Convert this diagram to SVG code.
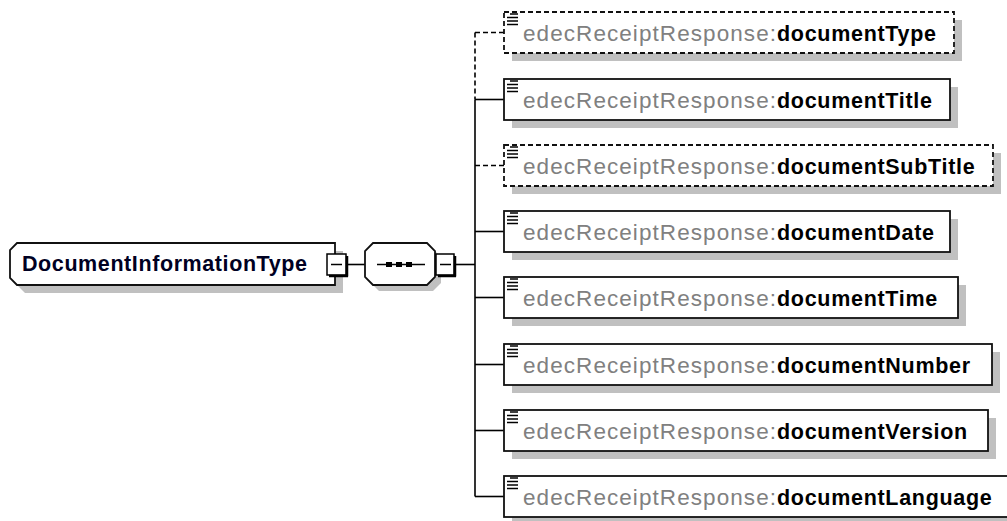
<svg xmlns="http://www.w3.org/2000/svg" width="1007" height="521" viewBox="0 0 1007 521">
<style>
.shadow{fill:#c0c0c0;stroke:none}
.box{fill:#fff;stroke:#111;stroke-width:1.8}
.dash{stroke-dasharray:5 3}
.conn{fill:none;stroke:#000;stroke-width:1.6}
.pre{font-family:"Liberation Sans",Arial,sans-serif;font-size:22.5px;fill:#808080}
.nm{font-family:"Liberation Sans",Arial,sans-serif;font-size:21.5px;font-weight:bold;fill:#000;letter-spacing:0.7px}
.ico{stroke:#000;stroke-width:1.5}
.mb{fill:#fff;stroke:#000;stroke-width:1.5}
</style>
<defs>
<g id="icon"><line class="ico" x1="510" y1="14" x2="518" y2="14"/><line class="ico" x1="507" y1="17.5" x2="518" y2="17.5"/><line class="ico" x1="507" y1="21" x2="518" y2="21"/><line class="ico" x1="507" y1="24.5" x2="518" y2="24.5"/></g>
</defs>
<g id="connectors">
<line class="conn" x1="347" y1="264.5" x2="365" y2="264.5"/>
<line class="conn" x1="455" y1="264.5" x2="475" y2="264.5"/>
<line class="conn dash" x1="475" y1="32.5" x2="475" y2="99.5"/>
<line class="conn" x1="475" y1="99.5" x2="475" y2="496.5"/>
<line class="conn dash" x1="475" y1="32.5" x2="504" y2="32.5"/>
<line class="conn" x1="475" y1="99.5" x2="504" y2="99.5"/>
<line class="conn dash" x1="475" y1="165.5" x2="504" y2="165.5"/>
<line class="conn" x1="475" y1="231.5" x2="504" y2="231.5"/>
<line class="conn" x1="475" y1="297.5" x2="504" y2="297.5"/>
<line class="conn" x1="475" y1="364.5" x2="504" y2="364.5"/>
<line class="conn" x1="475" y1="430.5" x2="504" y2="430.5"/>
<line class="conn" x1="475" y1="496.5" x2="504" y2="496.5"/>
</g>
<g id="DocumentInformationType">
<polygon class="shadow" points="25,251 343,251 343,293 25,293 18,286 18,257"/>
<polygon class="box" points="17,243 335,243 335,285 17,285 10,278 10,250"/>
<text x="22" y="271" font-family="Liberation Sans,Arial,sans-serif" font-size="21.5" font-weight="bold" fill="#000022" textLength="285" lengthAdjust="spacing">DocumentInformationType</text>
<rect class="mb" x="327" y="254" width="19" height="21"/>
<line stroke="#000" stroke-width="2.5" x1="347" y1="256" x2="347" y2="276.5"/>
<line stroke="#000" stroke-width="2.5" x1="329" y1="276" x2="348" y2="276"/>
<line stroke="#000" stroke-width="1.5" x1="331" y1="264.5" x2="342" y2="264.5"/>
</g>
<g id="sequence">
<polygon class="shadow" points="379,249 433,249 441,257 441,283 433,291 379,291 371,283 371,257"/>
<polygon class="box" points="373,243 427,243 435,251 435,277 427,285 373,285 365,277 365,251"/>
<line stroke="#000" stroke-width="1.6" x1="377" y1="264.5" x2="425" y2="264.5"/>
<rect x="386" y="262" width="6" height="5" fill="#000"/>
<rect x="396" y="262" width="6" height="5" fill="#000"/>
<rect x="406" y="262" width="6" height="5" fill="#000"/>
<rect class="mb" x="436" y="254" width="18" height="21"/>
<line stroke="#000" stroke-width="2.5" x1="455" y1="256" x2="455" y2="276.5"/>
<line stroke="#000" stroke-width="2.5" x1="438" y1="276" x2="456" y2="276"/>
<line stroke="#000" stroke-width="1.5" x1="440" y1="264.5" x2="451" y2="264.5"/>
</g>
<g id="documentType">
<rect class="shadow" x="512" y="20" width="450" height="41"/>
<rect class="box dash" x="504" y="12" width="450" height="41"/>
<use href="#icon"/>
<text class="pre" x="523" y="41" textLength="253" lengthAdjust="spacing">edecReceiptResponse:</text>
<text class="nm" x="777" y="41">documentType</text>
</g>
<g id="documentTitle">
<rect class="shadow" x="512" y="87" width="446" height="41"/>
<rect class="box" x="504" y="79" width="446" height="41"/>
<use href="#icon" y="67"/>
<text class="pre" x="523" y="108" textLength="253" lengthAdjust="spacing">edecReceiptResponse:</text>
<text class="nm" x="777" y="108">documentTitle</text>
</g>
<g id="documentSubTitle">
<rect class="shadow" x="512" y="153" width="489" height="41"/>
<rect class="box dash" x="504" y="145" width="489" height="41"/>
<use href="#icon" y="133"/>
<text class="pre" x="523" y="174" textLength="253" lengthAdjust="spacing">edecReceiptResponse:</text>
<text class="nm" x="777" y="174">documentSubTitle</text>
</g>
<g id="documentDate">
<rect class="shadow" x="512" y="219" width="446" height="41"/>
<rect class="box" x="504" y="211" width="446" height="41"/>
<use href="#icon" y="199"/>
<text class="pre" x="523" y="240" textLength="253" lengthAdjust="spacing">edecReceiptResponse:</text>
<text class="nm" x="777" y="240">documentDate</text>
</g>
<g id="documentTime">
<rect class="shadow" x="512" y="285" width="454" height="41"/>
<rect class="box" x="504" y="277" width="454" height="41"/>
<use href="#icon" y="265"/>
<text class="pre" x="523" y="306" textLength="253" lengthAdjust="spacing">edecReceiptResponse:</text>
<text class="nm" x="777" y="306">documentTime</text>
</g>
<g id="documentNumber">
<rect class="shadow" x="512" y="352" width="488" height="41"/>
<rect class="box" x="504" y="344" width="488" height="41"/>
<use href="#icon" y="332"/>
<text class="pre" x="523" y="373" textLength="253" lengthAdjust="spacing">edecReceiptResponse:</text>
<text class="nm" x="777" y="373">documentNumber</text>
</g>
<g id="documentVersion">
<rect class="shadow" x="512" y="418" width="484" height="41"/>
<rect class="box" x="504" y="410" width="484" height="41"/>
<use href="#icon" y="398"/>
<text class="pre" x="523" y="439" textLength="253" lengthAdjust="spacing">edecReceiptResponse:</text>
<text class="nm" x="777" y="439">documentVersion</text>
</g>
<g id="documentLanguage">
<rect class="shadow" x="512" y="484" width="506" height="41"/>
<rect class="box" x="504" y="476" width="506" height="41"/>
<use href="#icon" y="464"/>
<text class="pre" x="523" y="505" textLength="253" lengthAdjust="spacing">edecReceiptResponse:</text>
<text class="nm" x="777" y="505">documentLanguage</text>
</g>
</svg>
